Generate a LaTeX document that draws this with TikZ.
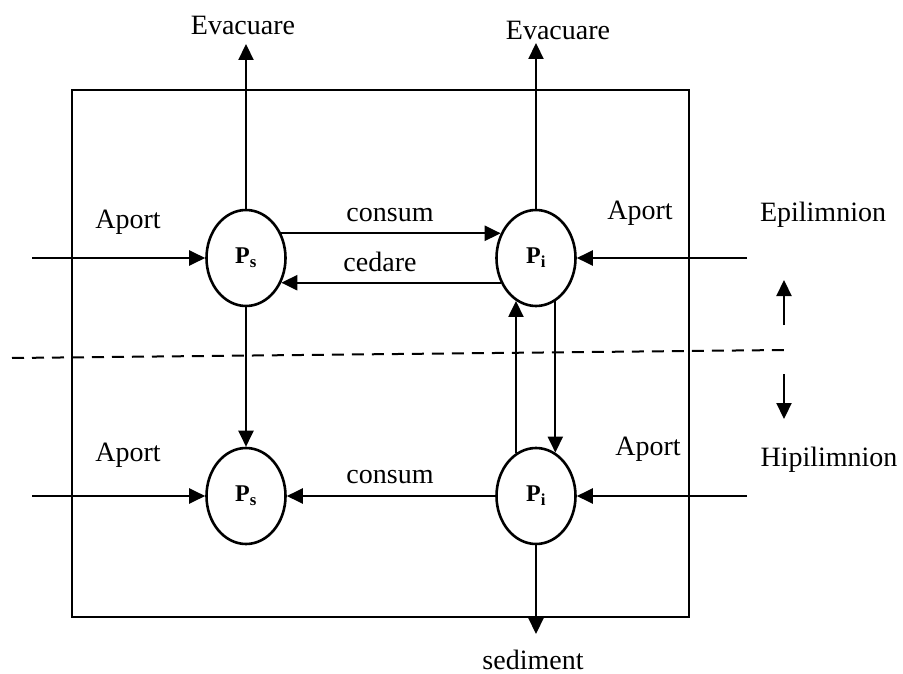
\documentclass[tikz,border=0pt]{standalone}
\usepackage{fontspec}
\setmainfont{Liberation Serif}
\usetikzlibrary{arrows.meta,shapes.geometric}
\begin{document}
\begin{tikzpicture}[x=1pt,y=-1pt,
  lbl/.style={font=\fontsize{28}{32}\selectfont, inner sep=0pt},
  pool/.style={draw, line width=2.6pt, ellipse, minimum width=79pt, minimum height=96pt, inner sep=0pt, font=\fontsize{24}{28}\selectfont\bfseries},
  flow/.style={line width=2.2pt, -{Triangle[length=16pt,width=15pt]}},
  frame/.style={line width=2pt},
  divider/.style={line width=2pt, dash pattern=on 12pt off 8pt}]
\useasboundingbox (0,0) rectangle (903,674);
% frame and divider
\draw[frame] (72,90) rectangle (689,617);
\draw[divider] (12,358) -- (784,350);
% pools
\node[pool] (pst) at (246,258) {P\textsubscript{s}};
\node[pool] (pit) at (536,258) {P\textsubscript{i}};
\node[pool] (psb) at (246,496) {P\textsubscript{s}};
\node[pool] (pib) at (536,496) {P\textsubscript{i}};
% free ends
\coordinate (evl) at (246,44);
\coordinate (evr) at (536,43);
\coordinate (inlt) at (32,258);
\coordinate (inrt) at (747,258);
\coordinate (inlb) at (32,496);
\coordinate (inrb) at (747,496);
\coordinate (sed) at (536,634);
\coordinate (upa) at (784,325);
\coordinate (upb) at (784,280);
\coordinate (dna) at (784,374);
\coordinate (dnb) at (784,419);
% labels
\node[lbl] (tevl) at (243,25) {Evacuare};
\node[lbl] (tevr) at (558,30) {Evacuare};
\node[lbl] (taplt) at (128,222) {Aport};
\node[lbl] (taprt) at (640,213) {Aport};
\node[lbl] (taplb) at (128,455) {Aport};
\node[lbl] (taprb) at (648,449) {Aport};
\node[lbl] (tcon1) at (390,215) {consum};
\node[lbl] (tced) at (380,262) {cedare};
\node[lbl] (tcon2) at (390,477) {consum};
\node[lbl] (tepi) at (823,215) {Epilimnion};
\node[lbl] (thip) at (829,460) {Hipilimnion};
\node[lbl] (tsed) at (533,660) {sediment};
% connectors
\draw[flow] (pst.north) -- (evl);
\draw[flow] (pit.north) -- (evr);
\draw[flow] (inlt) -- (pst.west);
\draw[flow] (inrt) -- (pit.east);
\draw[flow] (inlb) -- (psb.west);
\draw[flow] (inrb) -- (pib.east);
\draw[flow] (pst.35) -- (pit.145);
\draw[flow] (pit.-145) -- (pst.-35);
\draw[flow] (pib.west) -- (psb.east);
\draw[flow] (pst.south) -- (psb.north);
\draw[flow] (pib.115) -- (pit.-115);
\draw[flow] (pit.-66) -- (pib.66);
\draw[flow] (pib.south) -- (sed);
\draw[flow] (upa) -- (upb);
\draw[flow] (dna) -- (dnb);
\end{tikzpicture}
\end{document}
